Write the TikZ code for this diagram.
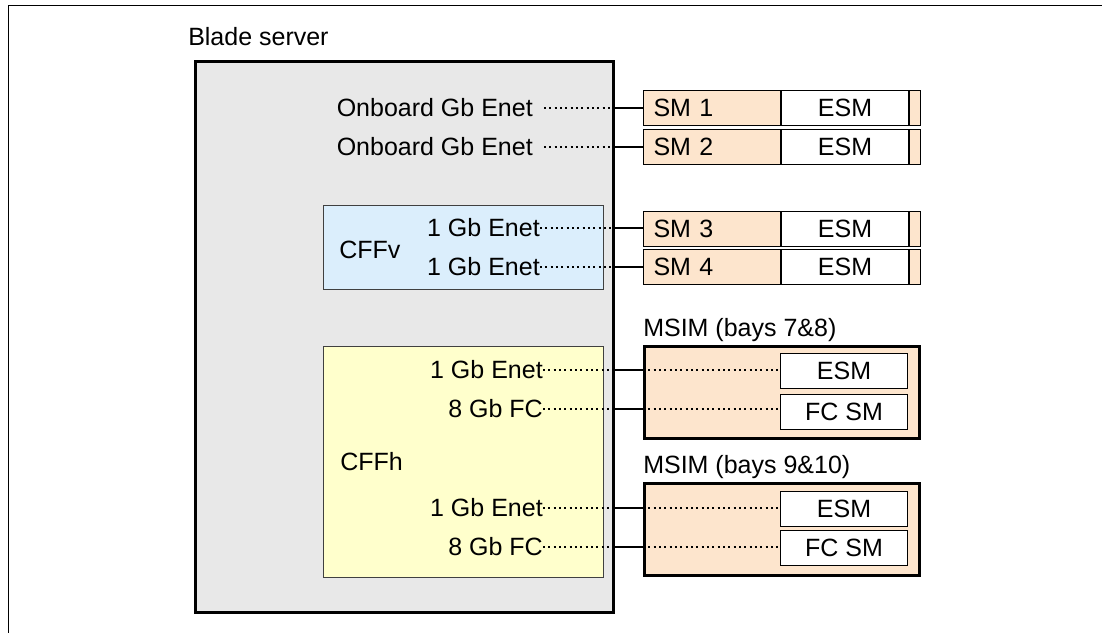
\documentclass[tikz,border=0pt]{standalone}
\usepackage{fontspec}
\setmainfont{Liberation Sans}
\usepackage{xcolor}
\definecolor{bladegray}{RGB}{232,232,232}
\definecolor{cffvblue}{RGB}{219,238,252}
\definecolor{cffhyellow}{RGB}{255,255,204}
\definecolor{smorange}{RGB}{253,229,205}

\begin{document}
\begin{tikzpicture}[x=0.75pt,y=0.75pt,yscale=-1,xscale=1,
  every node/.style={font=\fontsize{18.75}{22}\selectfont,inner sep=0pt},
  dotline/.style={line width=1.5pt,dash pattern=on 1.5pt off 2.5pt},
  wire/.style={line width=1.9pt},
  cell/.style={draw,line width=0.75pt,minimum height=26.25pt,anchor=west},
  smcell/.style={cell,fill=smorange,minimum width=102.75pt,text width=87.75pt,inner xsep=7.5pt,align=left},
  esmcell/.style={cell,fill=white,minimum width=95.25pt},
  tailcell/.style={cell,fill=smorange,minimum width=8.25pt},
  cardbox/.style={draw=black!75,line width=0.75pt,anchor=north west,minimum width=210pt},
  msimbox/.style={draw,line width=2.2pt,fill=smorange,anchor=north west,minimum width=206.25pt,minimum height=69pt}
]
\useasboundingbox (0,0) rectangle (1102,633);

\draw [line width=0.75pt] (1102,5) -- (8,5) -- (8,633) ;

\node [draw,line width=2.2pt,fill=bladegray,anchor=north west,minimum width=313.5pt,minimum height=413.25pt] (blade) at (194,60) {};
\node [anchor=base west] (bladelbl) at (188,45) {Blade server};

\node [cardbox,fill=cffvblue,minimum height=63pt] (cffv) at (323,205) {};
\node [cardbox,fill=cffhyellow,minimum height=173.25pt] (cffh) at (323,346) {};
\node [anchor=west] (cffvlbl) at (339,250) {CFFv};
\node [anchor=west] (cffhlbl) at (340,462) {CFFh};

\node [anchor=east] (on1) at (533,108) {Onboard Gb Enet};
\node [anchor=east] (on2) at (533,147) {Onboard Gb Enet};
\node [anchor=east] (v1) at (540,228) {1 Gb Enet};
\node [anchor=east] (v2) at (540,267) {1 Gb Enet};
\node [anchor=east] (h1) at (543,370) {1 Gb Enet};
\node [anchor=east] (h2) at (543,409) {8 Gb FC};
\node [anchor=east] (h3) at (543,508) {1 Gb Enet};
\node [anchor=east] (h4) at (543,547) {8 Gb FC};

\node [smcell] (sm1) at (643,107.5) {SM 1};
\node [esmcell] (esm1) at (sm1.east) {ESM};
\node [tailcell] (tail1) at (esm1.east) {};
\node [smcell] (sm2) at (643,146.5) {SM 2};
\node [esmcell] (esm2) at (sm2.east) {ESM};
\node [tailcell] (tail2) at (esm2.east) {};
\node [smcell] (sm3) at (643,228.5) {SM 3};
\node [esmcell] (esm3) at (sm3.east) {ESM};
\node [tailcell] (tail3) at (esm3.east) {};
\node [smcell] (sm4) at (643,266.5) {SM 4};
\node [esmcell] (esm4) at (sm4.east) {ESM};
\node [tailcell] (tail4) at (esm4.east) {};

\node [msimbox] (msim1) at (643,345) {};
\node [msimbox] (msim2) at (643,482) {};
\node [anchor=base west] (msim1lbl) at (643,336) {MSIM (bays 7\&8)};
\node [anchor=base west] (msim2lbl) at (643,473) {MSIM (bays 9\&10)};
\node [esmcell] (esm5) at (780,370.5) {ESM};
\node [esmcell] (fcsm1) at (780,411.5) {FC SM};
\node [esmcell] (esm6) at (780,508.5) {ESM};
\node [esmcell] (fcsm2) at (780,547.5) {FC SM};

\draw [dotline] ([xshift=8.25pt]on1.east) -- (on1.east -| blade.east) ;
\draw [wire] (on1.east -| blade.east) -- (on1.east -| sm1.west) ;
\draw [dotline] ([xshift=8.25pt]on2.east) -- (on2.east -| blade.east) ;
\draw [wire] (on2.east -| blade.east) -- (on2.east -| sm2.west) ;
\draw [dotline] (v1.east) -- (v1.east -| blade.east) ;
\draw [wire] (v1.east -| blade.east) -- (v1.east -| sm3.west) ;
\draw [dotline] (v2.east) -- (v2.east -| blade.east) ;
\draw [wire] (v2.east -| blade.east) -- (v2.east -| sm4.west) ;

\draw [dotline] (h1.east) -- (h1.east -| blade.east) ;
\draw [wire] (h1.east -| blade.east) -- (h1.east -| msim1.west) ;
\draw [dotline] (h1.east -| msim1.west) -- (h1.east -| esm5.west) ;
\draw [dotline] (h2.east) -- (h2.east -| blade.east) ;
\draw [wire] (h2.east -| blade.east) -- (h2.east -| msim1.west) ;
\draw [dotline] (h2.east -| msim1.west) -- (h2.east -| fcsm1.west) ;
\draw [dotline] (h3.east) -- (h3.east -| blade.east) ;
\draw [wire] (h3.east -| blade.east) -- (h3.east -| msim2.west) ;
\draw [dotline] (h3.east -| msim2.west) -- (h3.east -| esm6.west) ;
\draw [dotline] (h4.east) -- (h4.east -| blade.east) ;
\draw [wire] (h4.east -| blade.east) -- (h4.east -| msim2.west) ;
\draw [dotline] (h4.east -| msim2.west) -- (h4.east -| fcsm2.west) ;
\end{tikzpicture}
\end{document}
